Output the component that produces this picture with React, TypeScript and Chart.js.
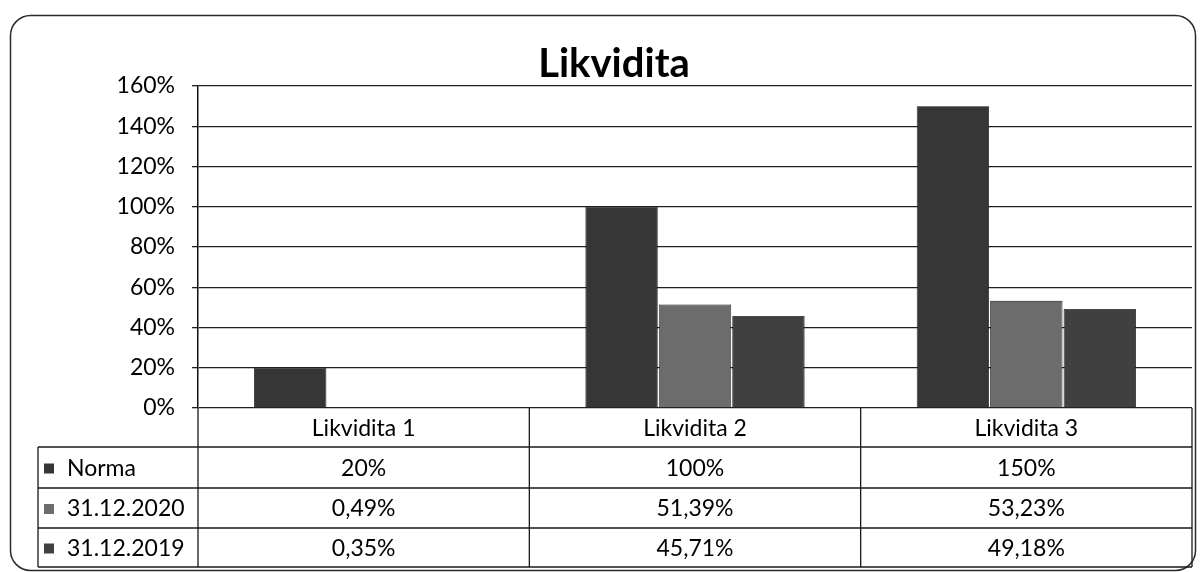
import React, { useEffect, useRef } from 'react';
import { Chart, registerables } from 'chart.js';

Chart.register(...registerables);

const categories = ['Likvidita 1', 'Likvidita 2', 'Likvidita 3'];
const seriesNames = ['Norma', '31.12.2020', '31.12.2019'];
const normaValues = [20, 100, 150];
const values2020 = [0.49, 51.39, 53.23];
const values2019 = [0.35, 45.71, 49.18];
const seriesDecimals = [0, 2, 2];
const seriesColors = ['#363636', '#6c6c6c', '#404040'];
const yMin = 0;
const yMax = 160;
const yStep = 20;
const titleText = 'Likvidita';

const FONT = 'Lato, "Open Sans", sans-serif';

const fmt = (v: number, d: number) => v.toFixed(d).replace('.', ',') + '%';

const tablePlugin = {
  id: 'tablePlugin',
  afterDraw(chart: any) {
    const ctx = chart.ctx as CanvasRenderingContext2D;
    const area = chart.chartArea;
    const xs = chart.scales.x;
    const n = categories.length;
    const colW = (area.right - area.left) / n;
    const tableLeft = 38;
    const headerTop = area.bottom;
    const rows = [447, 488, 528, 567];
    ctx.save();
    // outer rounded border
    ctx.strokeStyle = '#2a2a2a';
    ctx.lineWidth = 1.5;
    ctx.beginPath();
    (ctx as any).roundRect(10.5, 15.5, 1185, 555, 20);
    ctx.stroke();

    // title
    ctx.fillStyle = '#000';
    ctx.font = `bold 40px ${FONT}`;
    ctx.textAlign = 'center';
    ctx.textBaseline = 'alphabetic';
    ctx.fillText(titleText, 614, 77);

    // table lines
    ctx.strokeStyle = '#1a1a1a';
    ctx.lineWidth = 1.3;
    ctx.beginPath();
    for (let i = 0; i <= n; i++) {
      const x = area.left + i * colW;
      ctx.moveTo(x, headerTop);
      ctx.lineTo(x, rows[3]);
    }
    ctx.moveTo(tableLeft, rows[0]);
    ctx.lineTo(tableLeft, rows[3]);
    for (const r of rows) {
      ctx.moveTo(tableLeft, r);
      ctx.lineTo(area.right, r);
    }
    ctx.stroke();

    // header labels
    ctx.font = `23px ${FONT}`;
    ctx.textBaseline = 'middle';
    ctx.textAlign = 'center';
    ctx.fillStyle = '#000';
    categories.forEach((c, i) => {
      ctx.fillText(c, xs.getPixelForValue(i), (headerTop + rows[0]) / 2 + 1);
    });

    // rows
    chart.data.datasets.forEach((ds: any, si: number) => {
      const top = rows[si];
      const bot = rows[si + 1];
      const cy = (top + bot) / 2 + 1;
      // legend marker
      ctx.fillStyle = seriesColors[si];
      ctx.fillRect(44, cy - 5, 10, 10);
      ctx.fillStyle = '#000';
      ctx.textAlign = 'left';
      ctx.fillText(seriesNames[si], 67, cy);
      ctx.textAlign = 'center';
      ds.data.forEach((v: number, i: number) => {
        ctx.fillText(fmt(v, seriesDecimals[si]), xs.getPixelForValue(i), cy);
      });
    });
    ctx.restore();
  },
};

export default function App() {
  const ref = useRef<HTMLCanvasElement>(null);
  useEffect(() => {
    if (!ref.current) return;
    const chart = new Chart(ref.current, {
      type: 'bar',
      data: {
        labels: categories,
        datasets: [normaValues, values2020, values2019].map((d, i) => ({
          label: seriesNames[i],
          data: d,
          backgroundColor: seriesColors[i],
          borderColor: '#111',
          borderWidth: 0.8,
          categoryPercentage: 0.665,
          barPercentage: 0.985,
        })),
      },
      options: {
        responsive: false,
        animation: false,
        layout: { padding: { left: 0, right: 11, top: 86, bottom: 164 } },
        plugins: {
          legend: { display: false },
          title: { display: false },
          tooltip: { enabled: false },
        },
        scales: {
          x: {
            ticks: { display: false },
            grid: { display: false, drawTicks: false },
            border: { display: false },
            afterFit: (s: any) => {
              s.height = 0;
            },
          },
          y: {
            min: yMin,
            max: yMax,
            ticks: {
              stepSize: yStep,
              padding: 17,
              color: '#000',
              font: { family: FONT, size: 23 },
              callback: (v: any) => v + '%',
            },
            grid: {
              color: '#1f1f1f',
              lineWidth: 1.3,
              tickLength: 6,
              drawTicks: true,
            },
            border: { display: true, color: '#111', width: 1.5 },
            afterFit: (s: any) => {
              s.width = 198;
            },
          },
        },
      },
      plugins: [tablePlugin],
    });
    return () => chart.destroy();
  }, []);
  return (
    <div style={{ position: 'fixed', left: 0, top: 0, width: 1203, height: 572, background: '#fff' }}>
      <canvas ref={ref} width={1203} height={572} style={{ display: 'block' }} />
    </div>
  );
}
